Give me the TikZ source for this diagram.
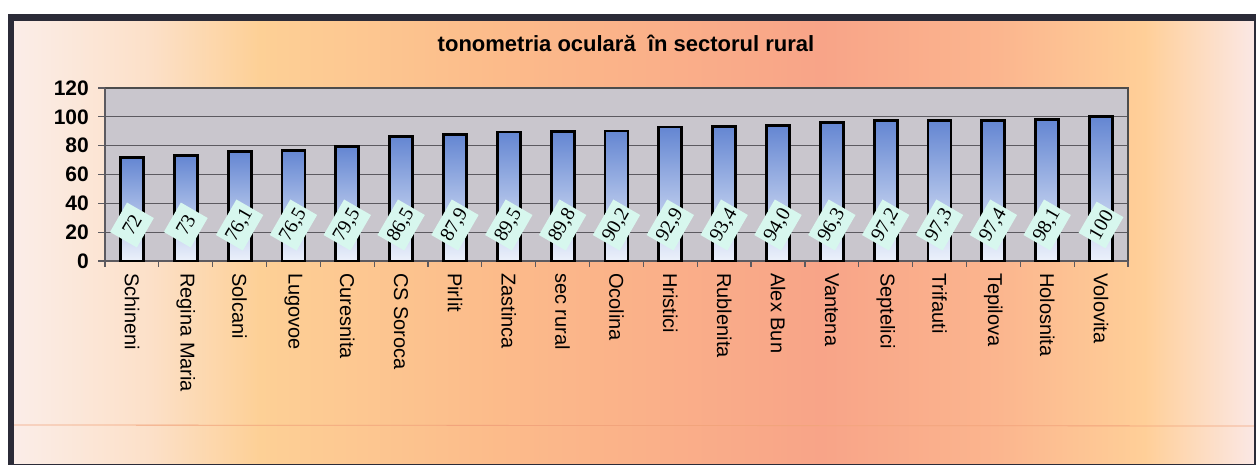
\documentclass[tikz,border=0pt]{standalone}
\usepackage{fontspec}
\setmainfont{Liberation Sans}
\newfontfamily\valfont{Liberation Serif}
\usetikzlibrary{positioning}

\definecolor{bgA}{HTML}{FBEDE8}
\definecolor{bgB}{HTML}{FCE0C8}
\definecolor{bgC}{HTML}{FDD096}
\definecolor{bgD}{HTML}{FCBB8A}
\definecolor{bgE}{HTML}{F8A488}
\definecolor{bgF}{HTML}{FBB58E}
\definecolor{bgG}{HTML}{FFCF98}
\definecolor{bgH}{HTML}{FBE8E6}
\definecolor{bgline}{HTML}{F2A47C}
\definecolor{framec}{HTML}{2B2B38}
\definecolor{plotbg}{HTML}{C9C6CD}
\definecolor{gridc}{HTML}{5C5A60}
\definecolor{bartop}{RGB}{100,134,210}
\definecolor{barbot}{RGB}{236,241,251}
\definecolor{valbg}{HTML}{D7F7EE}

\pgfdeclarehorizontalshading{bgfill}{100bp}{color(0bp)=(bgA); color(25bp)=(bgA);
  color(30.5bp)=(bgB); color(34.9bp)=(bgC); color(44.5bp)=(bgD); color(57.5bp)=(bgE);
  color(64.5bp)=(bgF); color(70.5bp)=(bgG); color(75bp)=(bgH); color(100bp)=(bgH)}

\begin{document}
\begin{tikzpicture}[x=1pt,y=-1pt,
    catlabel/.style={rotate=-90,anchor=west,inner sep=0pt,font=\fontsize{20}{20}\selectfont},
    vallabel/.style={rotate=60,fill=valbg,inner xsep=3pt,inner ysep=1pt,minimum width=34pt,
      minimum height=31pt,font=\valfont\fontsize{20}{20}\selectfont},
    ylabel/.style={anchor=east,inner sep=0pt,font=\bfseries\fontsize{21}{21}\selectfont},
    bar/.style={draw=black,line width=2.8pt,top color=bartop,bottom color=barbot}]
  \useasboundingbox (0,0) rectangle (1256,465);
  \shade[shading=bgfill] (14,21) rectangle (1256,465);
  \draw[bgline,line width=0.8pt] (14,425) -- (1256,426);
  \draw[framec,line width=6.5pt] (11,17.5) rectangle (1257,467);

  \node[font=\bfseries\fontsize{22}{22}\selectfont] (title) at (626,43) {tonometria oculară\ \ în sectorul rural};

  % plot area
  \fill[plotbg] (105,88) rectangle (1128,261);
  \foreach \v in {20,40,...,100}
    \draw[gridc,line width=1.2pt] (105,{261-\v*1.4417}) -- (1128,{261-\v*1.4417});
  \draw[gray!60!black,line width=1.5pt] (105,88) rectangle (1128,261);

  \foreach \v in {0,20,...,120}{
    \draw[gridc,line width=1.2pt] (98,{261-\v*1.4417}) -- (105,{261-\v*1.4417});
    \node[ylabel] (ytick\v) at (89,{261-\v*1.4417}) {\v};
  }
  \draw[gridc,line width=1.5pt] (105,88) -- (105,261) -- (1128,261);
  \foreach \k in {0,...,19}
    \draw[gridc,line width=1.2pt] ({105+\k*53.84},261) -- ({105+\k*53.84},267);

  \foreach \nm/\val/\txt [count=\i] in {Schineni/72/72, Regina Maria/73/73, Solcani/76.1/76{,}1,
      Lugovoe/76.5/76{,}5, Curesnita/79.5/79{,}5, CS Soroca/86.5/86{,}5, Pirlit/87.9/87{,}9,
      Zastinca/89.5/89{,}5, sec rural/89.8/89{,}8, Ocolina/90.2/90{,}2, Hristici/92.9/92{,}9,
      Rublenita/93.4/93{,}4, Alex Bun/94.0/94{,}0, Vantena/96.3/96{,}3, Septelici/97.2/97{,}2,
      Trifauti/97.3/97{,}3, Tepilova/97.4/97{,}4, Holosnita/98.1/98{,}1, Volovita/100/100}{
    \pgfmathsetmacro\xc{105+(\i-0.5)*53.84}
    \shadedraw[bar] ({\xc-11.5},{261-\val*1.4417}) rectangle ({\xc+11.5},261);
    \node[vallabel] (val\i) at (\xc,225) {\txt};
    \node[catlabel] (cat\i) at (\xc,273) {\nm};
  }
\end{tikzpicture}
\end{document}
